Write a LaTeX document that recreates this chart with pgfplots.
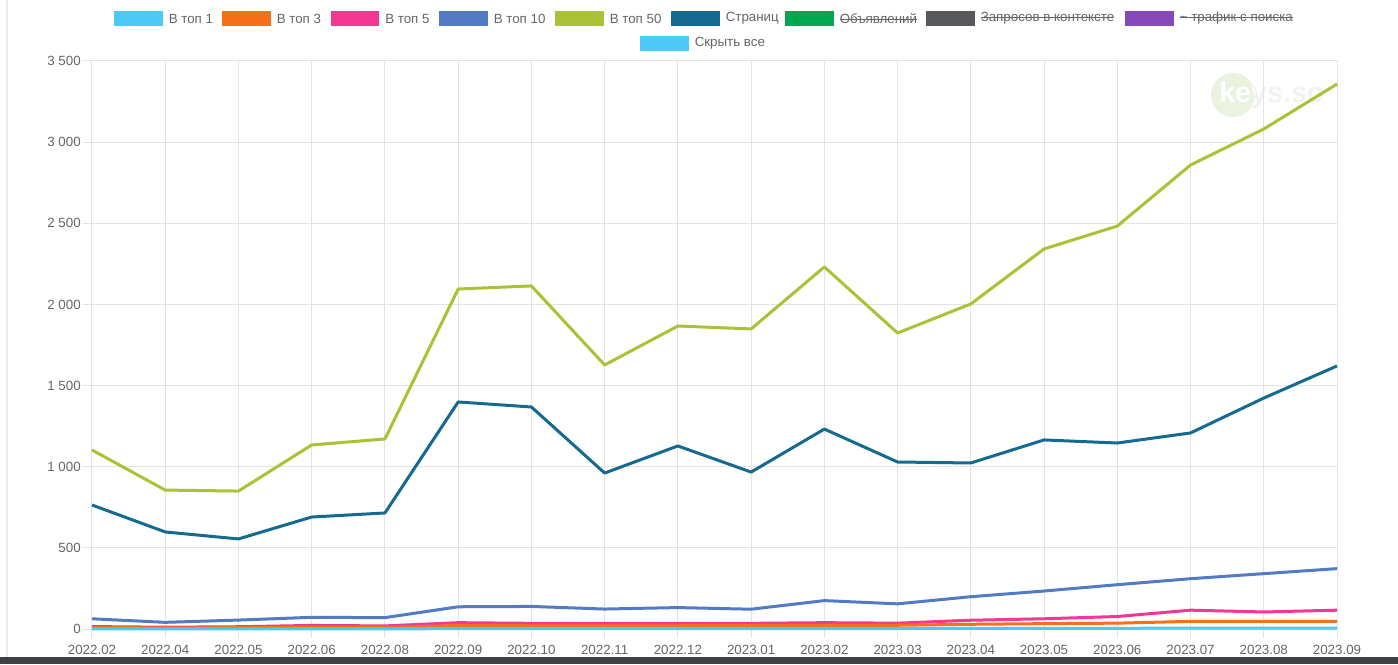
\documentclass[border=0pt]{standalone}
\usepackage{pgfplots}
\pgfplotsset{compat=1.18}
\usepackage{fontspec}
\setmainfont{Liberation Sans}

% series colours
\definecolor{cTopOne}{HTML}{4DC9F6}
\definecolor{cTopThree}{HTML}{F67019}
\definecolor{cTopFive}{HTML}{F53794}
\definecolor{cTopTen}{HTML}{537BC4}
\definecolor{cTopFifty}{HTML}{ACC236}
\definecolor{cPages}{HTML}{166A8F}
\definecolor{cAds}{HTML}{00A950}
\definecolor{cContext}{HTML}{58595B}
\definecolor{cTraffic}{HTML}{8549BA}
\definecolor{gridc}{HTML}{E3E3E3}
\definecolor{labelc}{HTML}{666666}
\definecolor{barc}{HTML}{3D4045}
\definecolor{framec}{HTML}{E9ECEF}
\definecolor{markc}{HTML}{EAF3DF}

% struck-through legend text
\newcommand\strike[1]{\setbox0\hbox{#1}\rlap{\usebox0}\rule[0.28em]{\wd0}{0.6pt}}

\begin{document}
\begin{tikzpicture}
\path[use as bounding box, fill=white] (0pt,0pt) rectangle (1048.5pt,498pt);

% page chrome: left frame line and dark bottom strip
\fill[framec] (4.5pt,5.25pt) rectangle (6pt,498pt);
\fill[barc] (0pt,0pt) rectangle (1048.5pt,5.25pt);

% watermark
\begin{scope}[x=0.75pt,y=-0.75pt,yshift=498pt]
  \fill[markc] (1233,95) circle (22);
  \node[anchor=base west, inner sep=0pt, font=\bfseries\fontsize{21.5pt}{21.5pt}\selectfont, text=black!5] at (1219,103) {keys.so};
  \begin{scope}
    \clip (1233,95) circle (22);
    \node[anchor=base west, inner sep=0pt, font=\bfseries\fontsize{21.5pt}{21.5pt}\selectfont, text=white] at (1219,103) {keys.so};
  \end{scope}
\end{scope}

\begin{axis}[
  at={(69pt,26.25pt)}, anchor=south west,
  scale only axis, width=933.75pt, height=426pt,
  xmin=0, xmax=17, ymin=0, ymax=3500,
  xtick={0,...,17},
  xticklabels={2022.02,2022.04,2022.05,2022.06,2022.08,2022.09,2022.10,2022.11,2022.12,2023.01,2023.02,2023.03,2023.04,2023.05,2023.06,2023.07,2023.08,2023.09},
  ytick={0,500,...,3500},
  yticklabels={0,500,1 000,1 500,2 000,2 500,3 000,3 500},
  grid=major,
  major grid style={draw=gridc, line width=0.75pt},
  axis line style={draw=gridc, line width=0.75pt},
  tick align=outside, tick pos=left,
  major tick length=6.75pt,
  tick style={draw=gridc, line width=0.75pt},
  ticklabel style={font=\fontsize{10pt}{11pt}\selectfont, text=labelc},
  xticklabel style={inner sep=0pt, yshift=-5.5pt},
  yticklabel style={inner sep=0pt, xshift=-1.5pt},
  every axis plot/.append style={line width=2.25pt, line join=round, mark=none},
  clip=false,
]
% Страниц
\addplot[color=cPages] coordinates {
(0,764) (1,598) (2,555) (3,690) (4,715) (5,1399) (6,1368) (7,961) (8,1128)
(9,967) (10,1232) (11,1029) (12,1023) (13,1165) (14,1146) (15,1208) (16,1423) (17,1621)};
% В топ 50
\addplot[color=cTopFifty] coordinates {
(0,1103) (1,856) (2,850) (3,1134) (4,1171) (5,2095) (6,2114) (7,1627) (8,1867)
(9,1849) (10,2231) (11,1824) (12,2003) (13,2342) (14,2483) (15,2859) (16,3081) (17,3358)};
% В топ 10
\addplot[color=cTopTen] coordinates {
(0,63) (1,41) (2,55) (3,72) (4,70) (5,137) (6,139) (7,123) (8,132)
(9,122) (10,175) (11,155) (12,199) (13,234) (14,273) (15,310) (16,341) (17,372)};
% В топ 5
\addplot[color=cTopFive] coordinates {
(0,15) (1,11) (2,14) (3,22) (4,19) (5,39) (6,35) (7,35) (8,35)
(9,35) (10,39) (11,36) (12,54) (13,63) (14,77) (15,116) (16,105) (17,116)};
% В топ 3
\addplot[color=cTopThree] coordinates {
(0,9) (1,7) (2,8) (3,12) (4,11) (5,21) (6,20) (7,20) (8,20)
(9,21) (10,23) (11,23) (12,29) (13,33) (14,36) (15,47) (16,47) (17,47)};
% В топ 1
\addplot[color=cTopOne] coordinates {
(0,1) (1,1) (2,1) (3,1) (4,1) (5,2) (6,2) (7,2) (8,2)
(9,2) (10,3) (11,3) (12,4) (13,4) (14,4) (15,6) (16,6) (17,6)};
\end{axis}

% legend
\begin{scope}[x=0.75pt,y=-0.75pt,yshift=498pt,
  lbl/.style={anchor=west, inner sep=0pt, font=\fontsize{10pt}{11pt}\selectfont, text=labelc}]
  \def\legendentry#1#2#3#4{%
    \fill[#2] (#1,#4-7.5) rectangle (#1+48.5,#4+7.5);
    \node[lbl] at (#1+54.5,#4) {#3};}
  \legendentry{114}{cTopOne}{В топ 1}{18.5}
  \legendentry{222}{cTopThree}{В топ 3}{18.5}
  \legendentry{330.5}{cTopFive}{В топ 5}{18.5}
  \legendentry{439}{cTopTen}{В топ 10}{18.5}
  \legendentry{555}{cTopFifty}{В топ 50}{18.5}
  \legendentry{671}{cPages}{Страниц}{18.5}
  \legendentry{785}{cAds}{\strike{Объявлений}}{18.5}
  \legendentry{926}{cContext}{\strike{Запросов в контексте}}{18.5}
  \legendentry{1125}{cTraffic}{\strike{\textasciitilde\ трафик с поиска}}{18.5}
  \legendentry{640}{cTopOne}{Скрыть все}{43.5}
\end{scope}
\end{tikzpicture}
\end{document}
